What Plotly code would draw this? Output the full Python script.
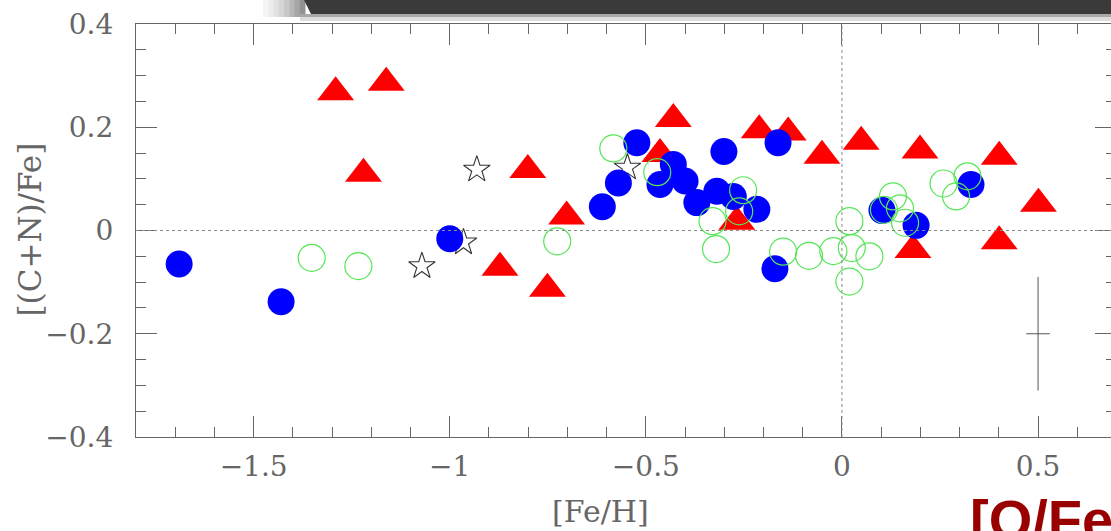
import plotly.graph_objects as go

# Filled blue circles
blue_feh = [-1.69, -1.43, -1.00, -0.611, -0.570, -0.523, -0.464, -0.430, -0.400,
            -0.370, -0.319, -0.301, -0.277, -0.217, -0.171, -0.163, 0.102, 0.189, 0.329]
blue_cn = [-0.065, -0.138, -0.016, 0.046, 0.092, 0.170, 0.089, 0.128, 0.096,
           0.054, 0.076, 0.153, 0.066, 0.041, -0.074, 0.170, 0.039, 0.010, 0.089]

# Red triangles
red_feh = [-1.291, -1.162, -1.220, -0.801, -0.702, -0.872, -0.751, -0.430, -0.464,
           -0.211, -0.137, -0.268, -0.051, 0.049, 0.199, 0.401, 0.501, 0.401, 0.181]
red_cn = [0.268, 0.286, 0.110, 0.117, 0.027, -0.072, -0.113, 0.216, 0.148,
          0.194, 0.190, 0.017, 0.145, 0.172, 0.155, 0.143, 0.052, -0.021, -0.038]

# Open green circles
green_feh = [-1.352, -1.233, -0.726, -0.583, -0.471, -0.330, -0.321, -0.252, -0.262,
             -0.150, -0.084, -0.022, 0.019, 0.025, 0.070, 0.019, 0.130, 0.107,
             0.148, 0.161, 0.259, 0.320, 0.291]
green_cn = [-0.053, -0.069, -0.021, 0.159, 0.113, 0.018, -0.036, 0.078, 0.037,
            -0.041, -0.049, -0.040, 0.018, -0.034, -0.050, -0.099, 0.066, 0.040,
            0.043, 0.015, 0.091, 0.105, 0.066]

# Open stars
star_feh = [-0.931, -1.071, -0.965, -0.547]
star_cn = [0.118, -0.069, -0.023, 0.122]

# Typical error bar
err_feh = [0.5]
err_cn = [-0.2]
err_dx = [0.03]
err_dy = [0.11]

x_ticks = [-1.5, -1.0, -0.5, 0.0, 0.5]
x_ticktext = ["\u22121.5", "\u22121", "\u22120.5", "0", "0.5"]
y_ticks = [-0.4, -0.2, 0.0, 0.2, 0.4]
y_ticktext = ["\u22120.4", "\u22120.2", "0", "0.2", "0.4"]

W, H = 1111, 531
L, R, T, B = 136, 0, 24, 94
PW, PH = W - L - R, H - T - B


def px(x):
    return (x - L) / PW


def py(y):
    return (H - B - y) / PH


AX = "#666666"
SERIF = "DejaVu Serif"

fig = go.Figure()

fig.add_trace(go.Scatter(
    x=star_feh, y=star_cn, mode="markers",
    marker=dict(symbol="star-open", size=20, color="#333333", line=dict(width=1.1)),
))
fig.add_trace(go.Scatter(
    x=red_feh, y=red_cn, mode="markers",
    marker=dict(symbol="triangle-up", size=32, color="#ff0000", line=dict(width=0)),
))
fig.add_trace(go.Scatter(
    x=blue_feh, y=blue_cn, mode="markers",
    marker=dict(symbol="circle", size=27, color="#0000ff", line=dict(width=0)),
))
fig.add_trace(go.Scatter(
    x=green_feh, y=green_cn, mode="markers",
    marker=dict(symbol="circle-open", size=27, color="#55e655", line=dict(width=1.2)),
))
fig.add_trace(go.Scatter(
    x=err_feh, y=err_cn, mode="markers", yaxis="y2",
    marker=dict(size=1, opacity=0),
    error_x=dict(type="data", array=err_dx, width=0, color="#555555", thickness=1),
    error_y=dict(type="data", array=err_dy, width=0, color="#555555", thickness=1),
))

tick_font = dict(family=SERIF, size=28, color=AX)

fig.update_layout(
    width=W, height=H,
    margin=dict(l=L, r=R, t=T, b=B),
    paper_bgcolor="white", plot_bgcolor="white",
    showlegend=False,
    xaxis=dict(
        range=[-1.8, 0.686], showgrid=False, zeroline=False,
        showline=True, linecolor=AX, linewidth=1.2, mirror="ticks",
        ticks="inside", ticklen=21, tickwidth=1, tickcolor=AX,
        tickvals=x_ticks, ticktext=x_ticktext, tickfont=tick_font,
        ticklabelstandoff=4,
        minor=dict(ticks="inside", tick0=0, dtick=0.1, ticklen=10,
                   tickwidth=1, tickcolor=AX, showgrid=False),
    ),
    yaxis=dict(
        range=[-0.4, 0.4], showgrid=False, zeroline=False,
        showline=True, linecolor=AX, linewidth=1.2, mirror=False,
        ticks="inside", ticklen=21, tickwidth=1, tickcolor=AX,
        tickvals=y_ticks, ticktext=y_ticktext, tickfont=tick_font,
        ticklabelstandoff=16,
        minor=dict(ticks="inside", tick0=0, dtick=0.05, ticklen=10,
                   tickwidth=1, tickcolor=AX, showgrid=False),
    ),
    yaxis2=dict(
        range=[-0.4, 0.4], overlaying="y", side="right", anchor="x",
        showgrid=False, zeroline=False, showline=False, showticklabels=False,
        ticks="inside", ticklen=16, tickwidth=1, tickcolor=AX,
        tickvals=y_ticks,
        minor=dict(ticks="inside", tick0=0, dtick=0.05, ticklen=5,
                   tickwidth=1, tickcolor=AX, showgrid=False),
    ),
)

# Dotted reference lines at zero
fig.add_shape(type="line", xref="paper", x0=0, x1=1, yref="y", y0=0, y1=0,
              line=dict(color="#888888", width=1, dash="dot"))
fig.add_shape(type="line", xref="x", x0=0, x1=0, yref="paper", y0=0, y1=1,
              line=dict(color="#888888", width=1, dash="dot"))

# Dark header bar with its soft shadow
shade = ["#f4f4f4", "#ececec", "#e2e2e2", "#d6d6d6", "#c8c8c8",
         "#b8b8b8", "#a6a6a6", "#929292"]
step = (305 - 263) / len(shade)
for i, c in enumerate(shade):
    fig.add_shape(type="rect", xref="paper", yref="paper", layer="above",
                  x0=px(263 + i * step), x1=px(263 + (i + 1) * step + 0.5),
                  y0=py(0), y1=py(17), line=dict(width=0), fillcolor=c)
fig.add_shape(type="rect", xref="paper", yref="paper", layer="above",
              x0=px(300), x1=1, y0=py(14), y1=py(17),
              line=dict(width=0), fillcolor="#a8a8a8")
fig.add_shape(type="rect", xref="paper", yref="paper", layer="above",
              x0=px(300), x1=1, y0=py(17), y1=py(21),
              line=dict(width=0), fillcolor="#dddddd")
fig.add_shape(type="path", xref="paper", yref="paper", layer="above",
              path=f"M {px(304)} {py(0)} L 1 {py(0)} L 1 {py(14)} L {px(311)} {py(14)} Z",
              line=dict(width=0), fillcolor="#3a3a3a")

# Axis titles
fig.add_annotation(text="[Fe/H]", xref="paper", yref="paper",
                   x=px(600), y=py(512), xanchor="center", yanchor="middle",
                   showarrow=False, font=dict(family=SERIF, size=30, color=AX))
fig.add_annotation(text="[(C+N)/Fe]", xref="paper", yref="paper",
                   x=px(29.5), y=py(230), xanchor="center", yanchor="middle",
                   textangle=-90, showarrow=False,
                   font=dict(family=SERIF, size=31, color=AX))

# Heading of the next panel
fig.add_annotation(text="<b>[O/Fe]</b>", xref="paper", yref="paper",
                   x=px(968), y=py(486), xanchor="left", yanchor="top",
                   showarrow=False,
                   font=dict(family="Liberation Sans", size=56, color="#990000"))

fig.write_html("out.html")
